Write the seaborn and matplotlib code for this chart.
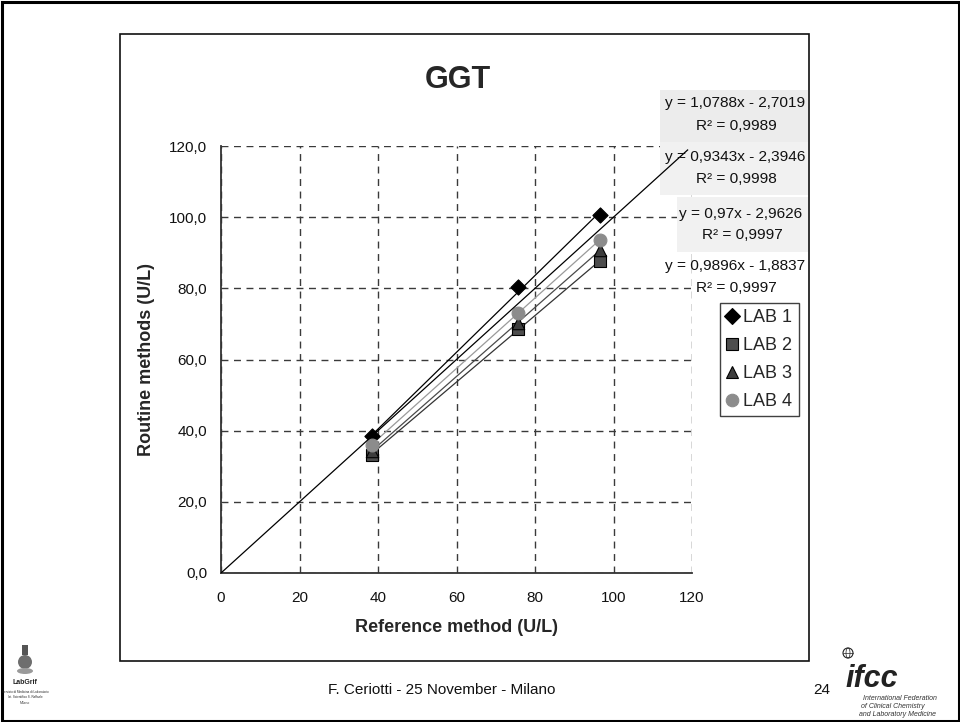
import numpy as np
import pandas as pd
import matplotlib
matplotlib.use("Agg")
import matplotlib.pyplot as plt
from matplotlib.patches import Rectangle, Ellipse
from matplotlib.lines import Line2D
import seaborn as sns

# ---- data -------------------------------------------------------------
labs = ["LAB 1", "LAB 2", "LAB 3", "LAB 4"]
reference = [38.4, 75.7, 96.6]
lab1 = [38.6, 80.4, 100.7]
lab2 = [33.3, 68.5, 87.8]
lab3 = [34.4, 70.3, 90.8]
lab4 = [36.1, 73.2, 93.6]
slopes = [1.0788, 0.9343, 0.97, 0.9896]
intercepts = [-2.7019, -2.3946, -2.9626, -1.8837]
r2 = [0.9989, 0.9998, 0.9997, 0.9997]
x_ticks = [0, 20, 40, 60, 80, 100, 120]
y_ticks = [0, 20, 40, 60, 80, 100, 120]

df = pd.DataFrame({
    "Reference": reference * 4,
    "Routine": lab1 + lab2 + lab3 + lab4,
    "Lab": [l for l in labs for _ in reference],
})

# ---- styling ----------------------------------------------------------
sns.set_theme(style="white")
plt.rcParams["font.family"] = ["Liberation Sans", "DejaVu Sans"]

markers = {"LAB 1": "D", "LAB 2": "s", "LAB 3": "^", "LAB 4": "o"}
faces = {"LAB 1": "#000000", "LAB 2": "#4d4d4d", "LAB 3": "#3d3d3d", "LAB 4": "#8c8c8c"}
edges = {"LAB 1": "#000000", "LAB 2": "#000000", "LAB 3": "#000000", "LAB 4": "#8c8c8c"}
sizes = {"LAB 1": 60, "LAB 2": 75, "LAB 3": 80, "LAB 4": 85}
line_cols = {"LAB 1": "#000000", "LAB 2": "#333333", "LAB 3": "#4a4a4a", "LAB 4": "#9a9a9a"}

W, H = 960, 722
fig = plt.figure(figsize=(W / 100, H / 100), dpi=100)
fig.patch.set_facecolor("white")


def fx(px):
    return px / W


def fy(py):
    return 1 - py / H


# chart frame
fig.patches.append(Rectangle((fx(120), fy(661)), fx(809) - fx(120), fy(34) - fy(661),
                             transform=fig.transFigure, fill=False, ec="#111111", lw=1.2, zorder=0))
# slide frame
fig.patches.append(Rectangle((fx(1.5), fy(720.5)), fx(957) - fx(0), fy(1.5) - fy(720.5),
                             transform=fig.transFigure, fill=False, ec="#000000", lw=2.2, zorder=0))

ax = fig.add_axes([fx(221), fy(573), fx(692) - fx(221), fy(146) - fy(573)])
ax.set_facecolor("none")
ax.set_xlim(0, 120)
ax.set_ylim(0, 120)
ax.set_axisbelow(True)

# trendlines from the stated regression coefficients, over the data range
xr = np.array([min(reference), max(reference)])
for lab, m, b in zip(labs, slopes, intercepts):
    ax.plot(xr, m * xr + b, color=line_cols[lab], lw=0.9, zorder=2)

for lab in labs:
    sub = df[df["Lab"] == lab]
    sns.scatterplot(data=sub, x="Reference", y="Routine", marker=markers[lab], s=sizes[lab],
                    color=faces[lab], edgecolor=edges[lab], linewidth=0.8, ax=ax,
                    legend=False, zorder=4)

# line of identity
ax.plot([0, 119], [0, 119], color="#000000", lw=0.9, zorder=5, solid_capstyle="butt")

# grid and axes
ax.set_xticks(x_ticks)
ax.set_yticks(y_ticks)
ax.grid(True, color="#3a3a3a", linestyle=(0, (5, 4)), lw=1.0)
ax.set_xticklabels([str(t) for t in x_ticks], fontsize=11)
ax.set_yticklabels([f"{t:.1f}".replace(".", ",") for t in y_ticks], fontsize=11)
for s in ["top", "right"]:
    ax.spines[s].set_visible(False)
for s in ["left", "bottom"]:
    ax.spines[s].set_color("#333333")
    ax.spines[s].set_linewidth(1.3)
ax.tick_params(axis="both", which="major", direction="out", length=5, width=1,
               color="#333333", pad=5, labelcolor="#111111")
ax.tick_params(axis="x", pad=8)
ax.set_xlabel("Reference method (U/L)", fontsize=13, fontweight="bold", labelpad=10)
ax.set_ylabel("Routine methods (U/L)", fontsize=13, fontweight="bold", labelpad=10)

fig.text(fx(458), fy(80), "GGT", fontsize=22, fontweight="bold", ha="center", va="center")

# trendline equation labels
boxes = [(660, 90, 808, 142, "#ececec"), (660, 142, 808, 195, "#f1f1f1"),
         (677, 197, 808, 252, "#f1f1f1")]
for x0, y0, x1, y1, c in boxes:
    ax.add_patch(Rectangle((fx(x0), fy(y1)), fx(x1) - fx(x0), fy(y0) - fy(y1),
                           transform=fig.transFigure, fc=c, ec="none", clip_on=False, zorder=1.5))

eq_pos = [(735, 103, 126), (735, 157, 179), (741, 214, 235), (735, 266, 288)]
for (cx, ya, yb), m, b, r in zip(eq_pos, slopes, intercepts, r2):
    slope_txt = f"{m:g}".replace(".", ",")
    icpt_txt = f"{abs(b):.4f}".replace(".", ",")
    sign = "-" if b < 0 else "+"
    fig.text(fx(cx), fy(ya), f"y = {slope_txt}x {sign} {icpt_txt}", fontsize=11.1,
             ha="center", va="center", color="#111111")
    fig.text(fx(cx + 1), fy(yb), f"R² = {r:.4f}".replace(".", ","), fontsize=11.1,
             ha="center", va="center", color="#111111")

# legend
handles = [Line2D([], [], linestyle="none", marker=markers[l], markersize=9 if l != "LAB 1" else 8,
                  markerfacecolor=faces[l], markeredgecolor=edges[l], markeredgewidth=0.8)
           for l in labs]
leg = fig.legend(handles, labs, loc="upper left", bbox_to_anchor=(fx(720), fy(303)),
                 bbox_transform=fig.transFigure, fontsize=13, frameon=True, fancybox=False,
                 handlelength=0.6, handletextpad=0.35, labelspacing=0.6, borderpad=0.35,
                 borderaxespad=0, edgecolor="#111111")
leg.get_frame().set_linewidth(1.0)

# footer
fig.text(fx(442), fy(690), "F. Ceriotti - 25 November - Milano", fontsize=11,
         ha="center", va="center", color="#111111")
fig.text(fx(822), fy(690), "24", fontsize=11, ha="center", va="center", color="#111111")

# left logo
fig.patches.append(Ellipse((fx(25), fy(662)), fx(14), 14 / H, transform=fig.transFigure,
                           fc="#6e6e6e", ec="none"))
fig.patches.append(Rectangle((fx(22), fy(655)), fx(6), 10 / H, transform=fig.transFigure,
                             fc="#555555", ec="none"))
fig.patches.append(Ellipse((fx(25), fy(671)), fx(16), 6 / H, transform=fig.transFigure,
                           fc="#9a9a9a", ec="none"))
fig.text(fx(25), fy(683), "LabGrif", fontsize=5, fontweight="bold", ha="center", va="center")
fig.text(fx(25), fy(692), "Servizio di Medicina di Laboratorio", fontsize=2.2, ha="center", va="center")
fig.text(fx(25), fy(697), "Ist. Scientifico S. Raffaele", fontsize=2.2, ha="center", va="center")
fig.text(fx(25), fy(703), "Milano", fontsize=2.5, ha="center", va="center", color="#444444")

# right logo: globe, wordmark and name
fig.patches.append(Ellipse((fx(848), fy(653)), 10 / W, 10 / H, transform=fig.transFigure,
                           fc="white", ec="#222222", lw=0.8))
fig.patches.append(Ellipse((fx(848), fy(653)), 4 / W, 10 / H, transform=fig.transFigure,
                           fc="none", ec="#222222", lw=0.5))
fig.lines.append(Line2D([fx(843), fx(853)], [fy(653), fy(653)], transform=fig.transFigure,
                        color="#222222", lw=0.5))
fig.text(fx(872), fy(679), "ifcc", fontsize=22, fontweight="bold", fontstyle="italic",
         ha="center", va="center", color="#222222")
for i, line in enumerate(["International Federation", "of Clinical Chemistry",
                          "and Laboratory Medicine"]):
    fig.text(fx(863 - i * 2), fy(699 + i * 7.5), line, fontsize=5, fontstyle="italic",
             ha="left", va="center", color="#333333")

fig.savefig("out.png", dpi=100)
